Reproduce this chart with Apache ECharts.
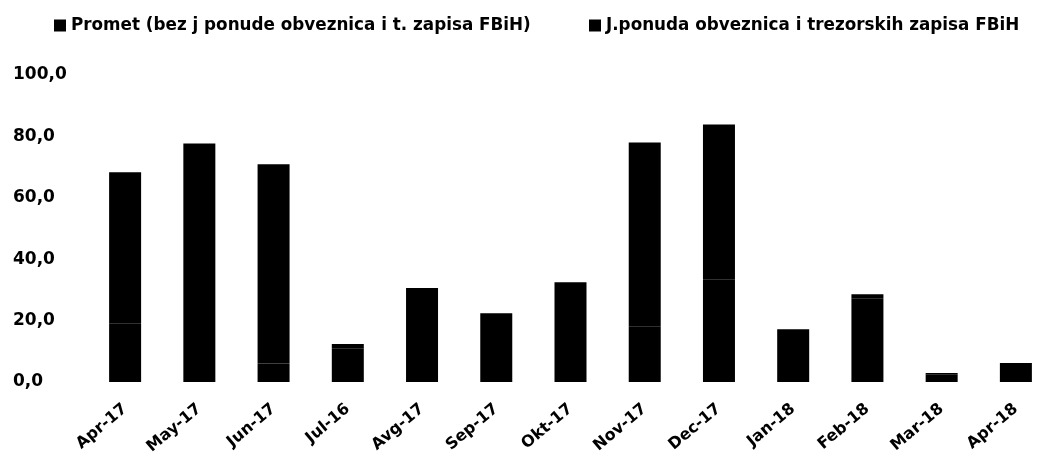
<!DOCTYPE html>
<html>
<head>
<meta charset="utf-8">
<script src="https://cdn.jsdelivr.net/npm/echarts@6/dist/echarts.min.js"></script>
<style>
  html, body { margin: 0; padding: 0; background: #fff; }
  #chart { width: 1053px; height: 458px; }
</style>
</head>
<body>
<div id="chart"></div>
<script>
// kategorije (mjeseci)
let categories = ['Apr-17', 'May-17', 'Jun-17', 'Jul-16', 'Avg-17', 'Sep-17', 'Okt-17', 'Nov-17', 'Dec-17', 'Jan-18', 'Feb-18', 'Mar-18', 'Apr-18'];
// promet bez javne ponude
let prometValues = [19.0, 20.5, 6.0, 11.0, 29.3, 14.0, 12.4, 18.0, 33.5, 16.0, 27.3, 2.5, 5.2];
// javna ponuda obveznica i trezorskih zapisa
let ponudaValues = [49.3, 57.2, 64.9, 1.4, 1.3, 8.4, 20.1, 60.0, 50.4, 1.2, 1.3, 0.4, 1.0];
let seriesNames = ['Promet (bez j ponude obveznica i t. zapisa FBiH)', 'J.ponuda obveznica i trezorskih zapisa FBiH'];
let yTicks = [0, 20, 40, 60, 80, 100];

let font = 'DejaVu Sans';

let myChart = echarts.init(document.getElementById('chart'), null, { renderer: 'canvas' });

let legendText = { fontFamily: font, fontWeight: 'bold', fontSize: 16.8, color: '#000' };

let option = {
    animation: false,
    backgroundColor: '#fff',
    legend: [
        {
            data: [seriesNames[0]],
            left: 49, top: 12,
            icon: 'rect', itemWidth: 12, itemHeight: 12, itemGap: 4,
            textStyle: legendText
        },
        {
            data: [seriesNames[1]],
            left: 584, top: 12,
            icon: 'rect', itemWidth: 12, itemHeight: 12, itemGap: 4,
            textStyle: legendText
        }
    ],
    grid: { left: 88, top: 75, width: 988, height: 307, containLabel: false },
    xAxis: {
        type: 'category',
        data: categories,
        axisLine: { show: false },
        axisTick: { show: false },
        axisLabel: {
            rotate: 40, interval: 0, margin: 25,
            fontFamily: font, fontWeight: 'bold', fontSize: 16, color: '#000'
        }
    },
    yAxis: {
        type: 'value',
        min: yTicks[0], max: yTicks[yTicks.length - 1], interval: 20,
        splitLine: { show: false },
        axisLine: { show: false },
        axisTick: { show: false },
        axisLabel: {
            align: 'left', margin: 75,
            fontFamily: font, fontWeight: 'bold', fontSize: 17, color: '#000',
            formatter: v => v.toFixed(1).replace('.', ',')
        }
    },
    series: [
        {
            name: seriesNames[0],
            type: 'bar',
            stack: 'uk',
            barWidth: 32,
            data: prometValues,
            itemStyle: { color: '#000' }
        },
        {
            name: seriesNames[1],
            type: 'bar',
            stack: 'uk',
            barWidth: 32,
            data: ponudaValues,
            itemStyle: { color: '#000' }
        }
    ]
};
myChart.setOption(option);
</script>
</body>
</html>
